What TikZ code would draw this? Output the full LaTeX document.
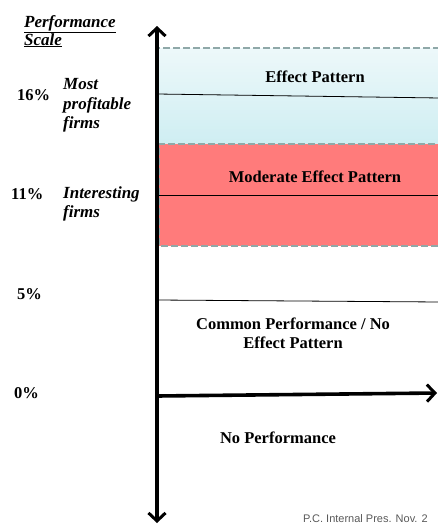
\documentclass[tikz,border=0pt]{standalone}
\usepackage{fontspec}
\setmainfont{Liberation Serif}
\newfontfamily\footfont{Liberation Sans}
\usetikzlibrary{arrows.meta}
\definecolor{bandtop}{HTML}{EDF8FA}
\definecolor{bandbot}{HTML}{CFEEF2}
\definecolor{bandred}{HTML}{FF7B7B}
\definecolor{bandedge}{HTML}{8FA8A8}
\tikzset{
  axis/.style={line width=3.6pt, -{Straight Barb[length=8pt,width=17pt,line width=3pt]}},
  level/.style={line width=0.8pt, black},
  bandframe/.style={draw=bandedge, line width=1.8pt, dash pattern=on 7pt off 3pt},
  bandlabel/.style={font=\bfseries\fontsize{16.5}{19}\selectfont, anchor=base, inner sep=0pt},
  pct/.style={font=\bfseries\fontsize{16.5}{19}\selectfont, anchor=base west, inner sep=0pt},
  firmlabel/.style={font=\bfseries\itshape\fontsize{17}{19}\selectfont, anchor=base west, inner sep=0pt},
  footnote/.style={font=\footfont\fontsize{11}{13}\selectfont, text=gray!70!black, anchor=base west, inner sep=0pt}
}
\begin{document}
\begin{tikzpicture}[x=1pt,y=-1pt]
\useasboundingbox (0,0) rectangle (438,525);
\clip (0,0) rectangle (438,525);

% shaded bands
\shade[top color=bandtop, bottom color=bandbot] (158,48) rectangle (445,143);
\draw[bandframe] (158,143) -- (158,48) -- (445,48);
\fill[bandred] (159,144) rectangle (445,246);
\draw[bandframe] (445,144) -- (159,144) -- (159,246) -- (445,246);

% level lines
\coordinate (l16a) at (157,94);  \coordinate (l16b) at (440,98);
\coordinate (l11a) at (157,195); \coordinate (l11b) at (440,195);
\coordinate (l5a)  at (157,300); \coordinate (l5b)  at (440,302);
\draw[level] (l16a) -- (l16b);
\draw[level] (l11a) -- (l11b);
\draw[level] (l5a) -- (l5b);

% axes
\coordinate (origin) at (157,396);
\coordinate (ytop) at (157,26);
\coordinate (ybot) at (157,523);
\coordinate (xend) at (437,393);
\draw[axis] (origin) -- (ytop);
\draw[axis] (origin) -- (ybot);
\draw[axis] (origin) -- (xend);

% band labels (placed on their baselines)
\node[bandlabel] (effect) at (315,82) {Effect Pattern};
\node[bandlabel] (moderate) at (315,182) {Moderate Effect Pattern};
\node[bandlabel] (common1) at (293,329) {Common Performance / No};
\node[bandlabel] (common2) at (293,348) {Effect Pattern};
\node[bandlabel] (noperf) at (278,443) {No Performance};

% scale title
\node[firmlabel] (title1) at (24,27) {\underline{Performance}};
\node[firmlabel] (title2) at (24,45) {\underline{Scale}};

% percentages
\node[pct] (p16) at (17,100) {16\%};
\node[pct] (p11) at (11,199) {11\%};
\node[pct] (p5) at (17,299) {5\%};
\node[pct] (p0) at (14,398) {0\%};

% firm groups
\node[firmlabel] (most1) at (63,89) {Most};
\node[firmlabel] (most2) at (63,109) {profitable};
\node[firmlabel] (most3) at (63,128) {firms};
\node[firmlabel] (int1) at (63,198) {Interesting};
\node[firmlabel] (int2) at (63,217) {firms};

% footer
\node[footnote] (foot) at (303,522) {P.C. Internal Pres. Nov. 2};
\end{tikzpicture}
\end{document}
